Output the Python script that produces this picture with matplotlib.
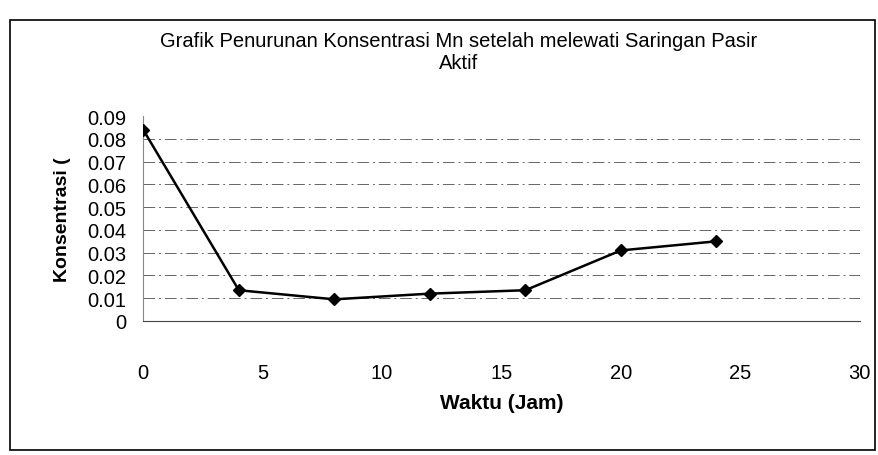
import numpy as np
import matplotlib.pyplot as plt
from matplotlib.patches import Rectangle

plt.rcParams['font.family'] = ['Liberation Sans', 'DejaVu Sans']

waktu = [0, 4, 8, 12, 16, 20, 24]
konsentrasi = [0.084, 0.0135, 0.0095, 0.012, 0.0135, 0.031, 0.035]

fig = plt.figure(figsize=(8.79, 4.56), dpi=100)
ax = fig.add_axes([0.163, 0.294, 0.815, 0.449])

ax.plot(waktu, konsentrasi, color='black', linewidth=1.8,
        marker='D', markersize=6, zorder=3)

ax.set_xlim(0, 30)
ax.set_ylim(0, 0.09)
ax.set_xticks(np.arange(0, 31, 5))
ax.set_yticks(np.arange(0, 0.091, 0.01))
ax.set_yticklabels(['0'] + ['%.2f' % v for v in np.arange(0.01, 0.091, 0.01)])
ax.tick_params(axis='x', length=0, pad=30, labelsize=14.5)
ax.tick_params(axis='y', length=0, pad=12, labelsize=14.5)

# dashed gridlines, none on the top edge
for v in np.arange(0.01, 0.081, 0.01):
    ax.axhline(v, color='#666666', linestyle=(0, (12, 4, 2, 4)), linewidth=0.7, zorder=1)
for s in ['top', 'right']:
    ax.spines[s].set_visible(False)
ax.spines['left'].set_color('#888888')
ax.spines['bottom'].set_color('#444444')

ax.set_xlabel('Waktu (Jam)', fontsize=15, fontweight='bold', labelpad=8)
ax.set_ylabel('Konsentrasi (', fontsize=14, fontweight='bold', labelpad=12)

fig.text(0.522, 0.885, 'Grafik Penurunan Konsentrasi Mn setelah melewati Saringan Pasir\nAktif',
         ha='center', va='center', fontsize=14.5, linespacing=1.15)

fig.patches.append(Rectangle((0.011, 0.01), 0.985, 0.945, transform=fig.transFigure,
                             fill=False, edgecolor='black', linewidth=1.2))

fig.savefig('out.png', dpi=100)
